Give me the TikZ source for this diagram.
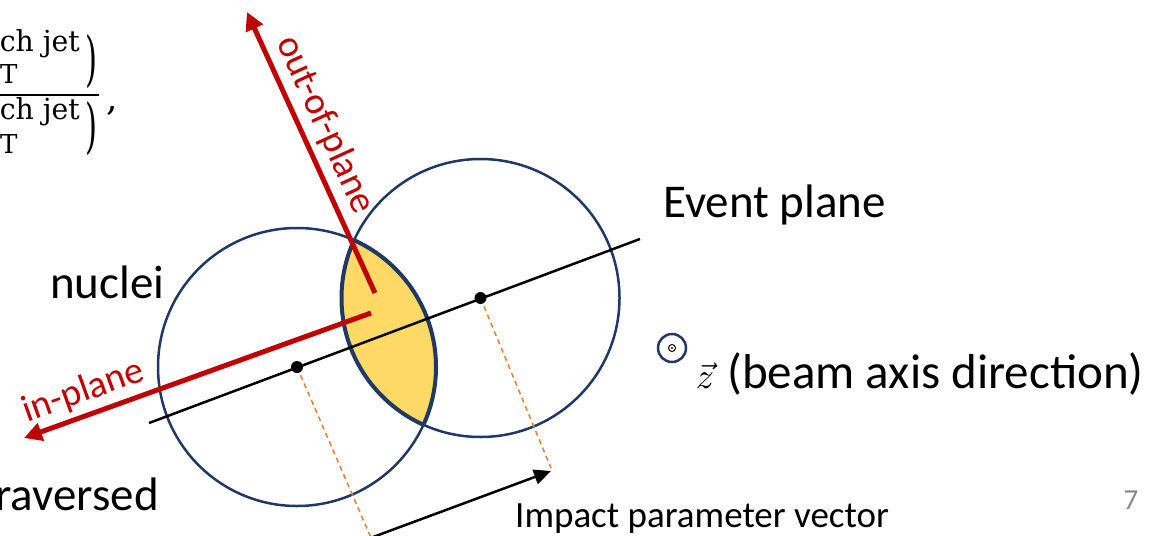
\documentclass[tikz,border=0pt]{standalone}
\usepackage{fontspec}
\setmainfont{Carlito}
\newfontfamily\fracfont{DejaVu Serif}
\usetikzlibrary{arrows.meta}
\definecolor{navy}{HTML}{1F3864}
\definecolor{redarrow}{HTML}{C00000}
\definecolor{lensfill}{HTML}{FFD966}
\definecolor{dashorange}{HTML}{ED7D31}
\definecolor{pagegray}{HTML}{898989}
\tikzset{
  nucleus/.style={navy, line width=2.5pt},
  lensedge/.style={navy, line width=4pt},
  redaxis/.style={redarrow, line width=5pt, -{Triangle[length=18pt,width=18pt]}},
  redlabel/.style={redarrow, font=\fontsize{38}{38}\selectfont, inner sep=0pt},
  biglabel/.style={font=\fontsize{47}{47}\selectfont, inner sep=0pt},
  midlabel/.style={font=\fontsize{37}{37}\selectfont, inner sep=0pt},
  projline/.style={dashorange, line width=1.5pt, dash pattern=on 5pt off 4pt},
  centerdot/.style={fill=black},
  fracpart/.style={inner sep=0pt, font=\fracfont},
  parenpart/.style={inner sep=0pt, font=\fracfont}
}
\begin{document}
\begin{tikzpicture}[x=1pt,y=-1pt]
\useasboundingbox (0,0) rectangle (1166,535);
\clip (0,0) rectangle (1166,535);

% centres
\coordinate (A) at (297,367);
\coordinate (B) at (480.5,298);

% overlap lens
\begin{scope}
  \clip (A) circle (139pt);
  \fill[lensfill] (B) circle (139pt);
\end{scope}
\draw[nucleus] (A) circle (139pt);
\draw[nucleus] (B) circle (139pt);
\begin{scope}
  \clip (A) circle (139pt);
  \draw[lensedge] (B) circle (139pt);
\end{scope}
\begin{scope}
  \clip (B) circle (139pt);
  \draw[lensedge] (A) circle (139pt);
\end{scope}

% event plane
\coordinate (ep1) at (149,423);
\coordinate (ep2) at (640,239);
\draw[black, line width=2.5pt] (ep1) -- (ep2);

% projections and impact parameter
\coordinate (pA) at (372,540);
\coordinate (pB) at (551,468);
\draw[projline] (A) -- (pA);
\draw[projline] (B) -- (pB);
\coordinate (ib1) at (365,540);
\coordinate (ib2) at (551,471);
\draw[black, line width=2.5pt, -{Triangle[length=17pt,width=15pt]}] (ib1) -- (ib2);

% dots
\fill[centerdot] (A) circle (6pt);
\fill[centerdot] (B) circle (6pt);

% red axes
\coordinate (ip0) at (371,313);
\coordinate (ip1) at (24,438);
\coordinate (op0) at (375,293);
\coordinate (op1) at (247,12);
\draw[redaxis] (ip0) -- (ip1);
\draw[redaxis] (op0) -- (op1);
\node[redlabel, anchor=base, rotate=19.7] (inplane) at (87,401) {in-plane};
\node[redlabel, anchor=base, rotate=-65.5] (outplane) at (316,129) {out-of-plane};

% labels
\node[biglabel, anchor=base west] (evp) at (663,217) {Event plane};
\node[biglabel, anchor=base west] (nuc) at (50,298) {nuclei};
\node[biglabel, anchor=base east] (trav) at (159,510) {raversed};
\node[midlabel, anchor=base west] (imp) at (515,527) {Impact parameter vector};
\node[font=\fontsize{29}{29}\selectfont, text=pagegray, inner sep=0pt, anchor=base] (pnum) at (1131,509) {7};

% beam axis symbol
\coordinate (bz) at (672,348);
\draw[navy, line width=2.5pt] (bz) circle (14pt);
\draw[black, line width=1pt] (bz) circle (3.5pt);
\fill[black] (bz) circle (1.2pt);
\node[inner sep=0pt, anchor=base] (zvec) at (705,388) {\scalebox{3.6}{$\vec{z}$}};
\node[font=\fontsize{49}{49}\selectfont, inner sep=0pt, anchor=base west] (beam) at (727,388) {(beam axis direction)};

% formula fragment
\node[fracpart, anchor=base east] (n1) at (80,52) {\resizebox{80pt}{22pt}{ch jet}};
\node[fracpart, anchor=base west] (n2) at (0,83) {\resizebox{!}{19pt}{T}};
\node[parenpart, anchor=center] (p1) at (91,62) {\resizebox{12pt}{45pt}{)}};
\draw[black, line width=2.5pt] (-2,95) -- (99,95);
\node[fracpart, anchor=base east] (d1) at (80,119) {\resizebox{80pt}{22pt}{ch jet}};
\node[fracpart, anchor=base west] (d2) at (0,153) {\resizebox{!}{19pt}{T}};
\node[parenpart, anchor=center] (p2) at (91,129) {\resizebox{12pt}{45pt}{)}};
\node[fracpart, anchor=base west] (comma) at (106,110) {\scalebox{3.6}{,}};
\end{tikzpicture}
\end{document}
